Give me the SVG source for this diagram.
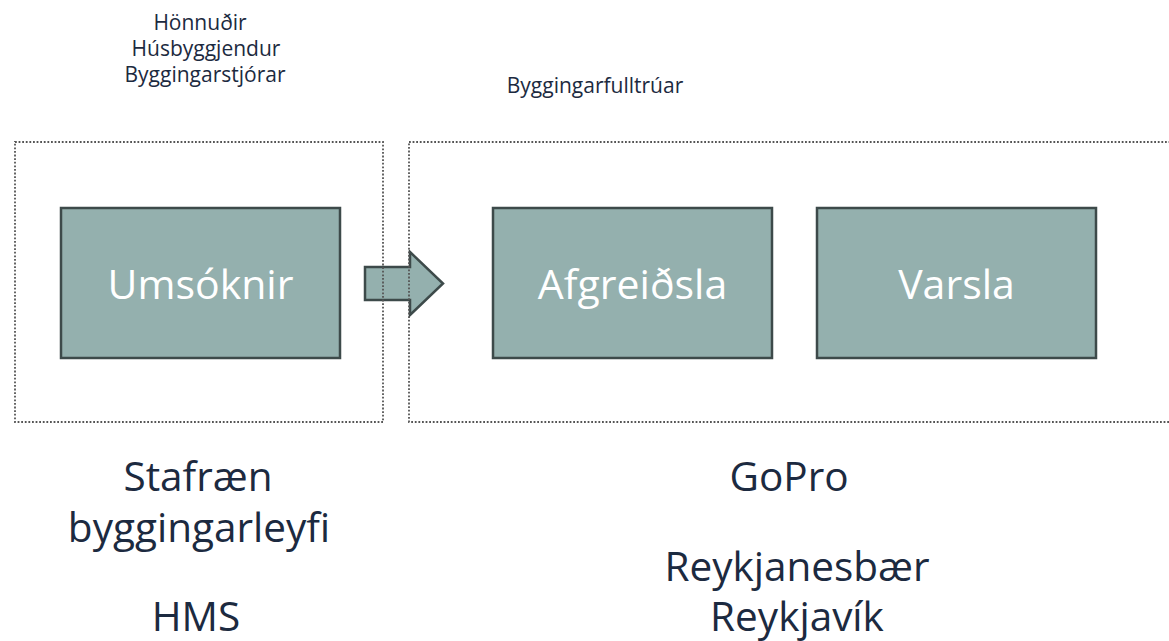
<svg xmlns="http://www.w3.org/2000/svg" width="1169" height="641" viewBox="0 0 1169 641">
<style>
.box{fill:#94B0AE;stroke:#3D4A4A;stroke-width:2.5}
.grp{fill:none;stroke:#555555;stroke-width:1.8;stroke-dasharray:1.8 1.8}
.bt{font-family:"Open Sans","Noto Sans",sans-serif;font-size:41px;fill:#FFFFFF;text-anchor:middle}
.lab{font-family:"Open Sans","Noto Sans",sans-serif;font-size:21px;fill:#1C2A40;text-anchor:middle}
.big{font-family:"Open Sans","Noto Sans",sans-serif;font-size:40.5px;fill:#1C2A40;text-anchor:middle}
</style>
<rect width="1169" height="641" fill="#FFFFFF"/>
<g id="connectors">
<polygon class="box" points="365,267 410,267 410,252 443,283.5 410,315 410,300 365,300"/>
</g>
<g id="group-left">
<rect class="grp" x="15" y="142" width="368" height="280"/>
</g>
<g id="group-right">
<rect class="grp" x="409" y="142" width="780" height="280"/>
</g>
<g id="umsoknir">
<rect class="box" x="61" y="208" width="279" height="150"/>
<text class="bt" x="200.5" y="299">Umsóknir</text>
</g>
<g id="afgreidsla">
<rect class="box" x="493" y="208" width="279" height="150"/>
<text class="bt" x="632.5" y="299">Afgreiðsla</text>
</g>
<g id="varsla">
<rect class="box" x="817" y="208" width="279" height="150"/>
<text class="bt" x="956.5" y="299">Varsla</text>
</g>
<g id="top-left-labels">
<text class="lab" x="200" y="30">Hönnuðir</text>
<text class="lab" x="206" y="56">Húsbyggjendur</text>
<text class="lab" x="205" y="82">Byggingarstjórar</text>
</g>
<g id="top-right-label">
<text class="lab" x="595" y="93">Byggingarfulltrúar</text>
</g>
<g id="bottom-left">
<text class="big" x="198" y="491">Stafræn</text>
<text class="big" x="199" y="542">byggingarleyfi</text>
<text class="big" x="196" y="631">HMS</text>
</g>
<g id="bottom-right">
<text class="big" x="789" y="491">GoPro</text>
<text class="big" x="797" y="581">Reykjanesbær</text>
<text class="big" x="797" y="631">Reykjavík</text>
</g>
</svg>
